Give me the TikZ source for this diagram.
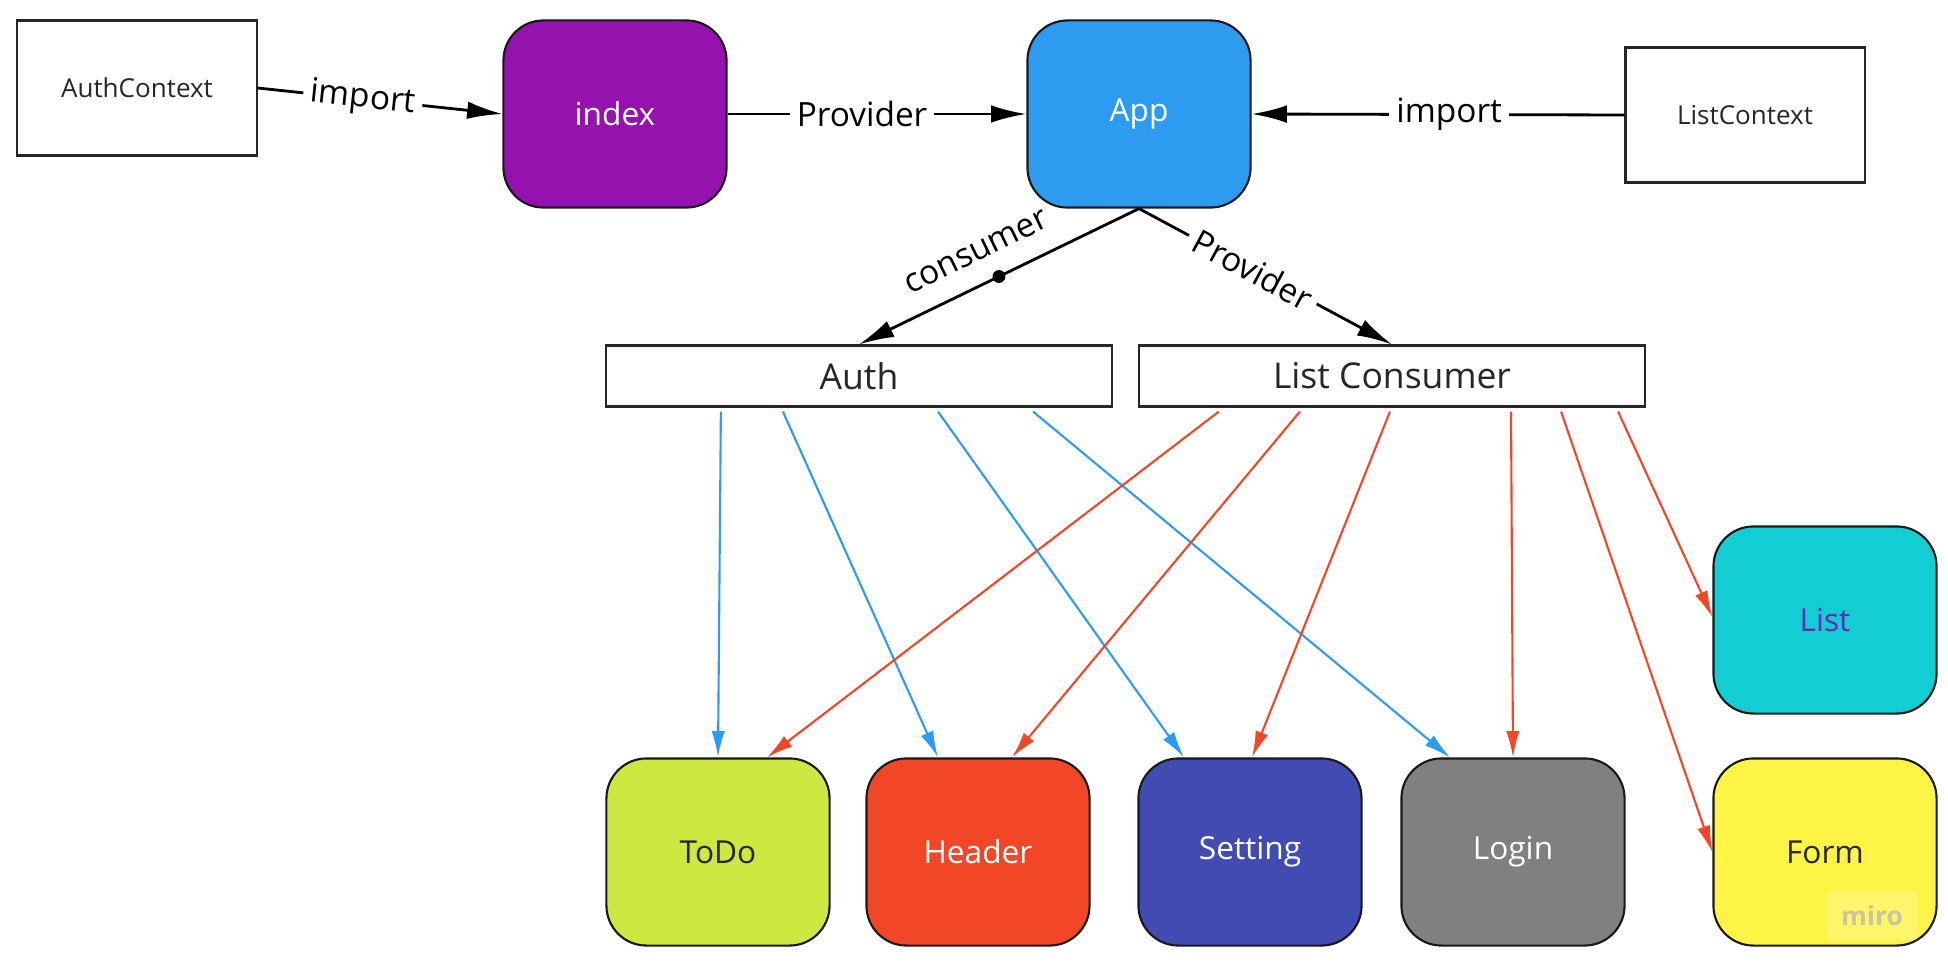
\documentclass[tikz,border=0pt]{standalone}
\usepackage{fontspec}
\setmainfont{Open Sans}
\usetikzlibrary{arrows.meta, calc}
\definecolor{mpurple}{HTML}{9612AE}
\definecolor{mblue}{HTML}{2D9BF0}
\definecolor{mcyan}{HTML}{12CDD4}
\definecolor{myellow}{HTML}{FEF445}
\definecolor{mlime}{HTML}{CEE741}
\definecolor{mred}{HTML}{F24726}
\definecolor{mindigo}{HTML}{414BB2}
\definecolor{mgray}{HTML}{808080}
\definecolor{mviolet}{HTML}{652CB3}
\definecolor{mmark}{HTML}{C9C79A}
\tikzstyle{ctxbox}=[draw=black!85, line width=0.6pt, minimum width=2.39cm, minimum height=1.35cm, font=\fontsize{7.4}{9}\selectfont, text=black!85]
\tikzstyle{compbox}=[draw=black!90, line width=0.6pt, rounded corners=0.4cm, minimum width=2.23cm, minimum height=1.87cm, font=\fontsize{9}{11}\selectfont]
\tikzstyle{barbox}=[draw=black!85, line width=0.6pt, minimum width=5.06cm, minimum height=0.61cm, font=\fontsize{10.1}{12}\selectfont, text=black!85]
\tikzstyle{link}=[draw=black, line width=0.8pt, -{Latex[length=10pt,width=5pt]}]
\tikzstyle{lbl}=[fill=white, font=\fontsize{9.5}{11}\selectfont, inner sep=2pt]
\tikzstyle{authline}=[draw=mblue, line width=0.6pt, -{Latex[length=7.5pt,width=3.8pt]}]
\tikzstyle{listline}=[draw=mred, line width=0.6pt, -{Latex[length=7.5pt,width=3.8pt]}]

\begin{document}
\begin{tikzpicture}[x=0.01cm, y=-0.01cm]
	\useasboundingbox (0,0) rectangle (1948,970);
	\node[ctxbox] (authctx) at (137,88) {AuthContext};
	\node[compbox, fill=mpurple, text=white] (index) at (615,114) {index};
	\node[compbox, fill=mblue, text=white] (app) at (1139,114) {App};
	\node[ctxbox] (listctx) at (1745,115) {ListContext};
	\node[barbox] (auth) at (859,376) {Auth};
	\node[barbox] (lcons) at (1392,376) {List Consumer};
	\node[compbox, fill=mcyan, text=mviolet] (list) at (1825,620) {List};
	\node[compbox, fill=mlime, text=black!85] (todo) at (718,852) {ToDo};
	\node[compbox, fill=mred, text=white] (header) at (978,852) {Header};
	\node[compbox, fill=mindigo, text=white] (setting) at (1250,852) {Setting};
	\node[compbox, fill=mgray, text=white] (login) at (1513,852) {Login};
	\node[compbox, fill=myellow, text=black!85] (form) at (1825,852) {Form};
	\node[fill=white, fill opacity=0.2, text opacity=1, text=mmark, font=\bfseries\fontsize{7.5}{9}\selectfont, minimum width=0.9cm, minimum height=0.48cm] (miro) at (1872,916) {miro};

	\draw[link] (authctx.east) -- node[lbl, sloped, pos=0.43] (imp1) {import} (index.west);
	\draw[link] (index.east) -- node[lbl, pos=0.45] (prov1) {Provider} (app.west);
	\draw[link] (listctx.west) -- node[lbl, pos=0.47] (imp2) {import} (app.east);
	\draw[link] (app.south) -- node[circle, fill=black, inner sep=1.3pt, pos=0.5] (cdot) {} node[sloped, above, pos=0.53, font=\fontsize{9.5}{11}\selectfont, inner sep=6pt] (cons) {consumer} (auth.north);
	\draw[link] (app.south) -- node[lbl, sloped, pos=0.45] (prov2) {Provider} (lcons.north);

	\draw[authline] ([xshift=1.16cm, yshift=-0.04cm]auth.south west) -- (todo.north);
	\draw[authline] ([xshift=1.78cm, yshift=-0.04cm]auth.south west) -- ([xshift=-0.4cm]header.north);
	\draw[authline] ([xshift=3.33cm, yshift=-0.04cm]auth.south west) -- ([xshift=-0.66cm]setting.north);
	\draw[authline] ([xshift=4.28cm, yshift=-0.04cm]auth.south west) -- ([xshift=-0.63cm]login.north);

	\draw[listline] ([xshift=0.81cm, yshift=-0.04cm]lcons.south west) -- ([xshift=0.49cm]todo.north);
	\draw[listline] ([xshift=1.62cm, yshift=-0.04cm]lcons.south west) -- ([xshift=0.34cm]header.north);
	\draw[listline] ([xshift=2.52cm, yshift=-0.04cm]lcons.south west) -- ([xshift=0.02cm]setting.north);
	\draw[listline] ([xshift=3.73cm, yshift=-0.04cm]lcons.south west) -- (login.north);
	\draw[listline] ([xshift=4.23cm, yshift=-0.04cm]lcons.south west) -- (form.west);
	\draw[listline] ([xshift=4.80cm, yshift=-0.04cm]lcons.south west) -- ([yshift=0.03cm]list.west);
\end{tikzpicture}
\end{document}
